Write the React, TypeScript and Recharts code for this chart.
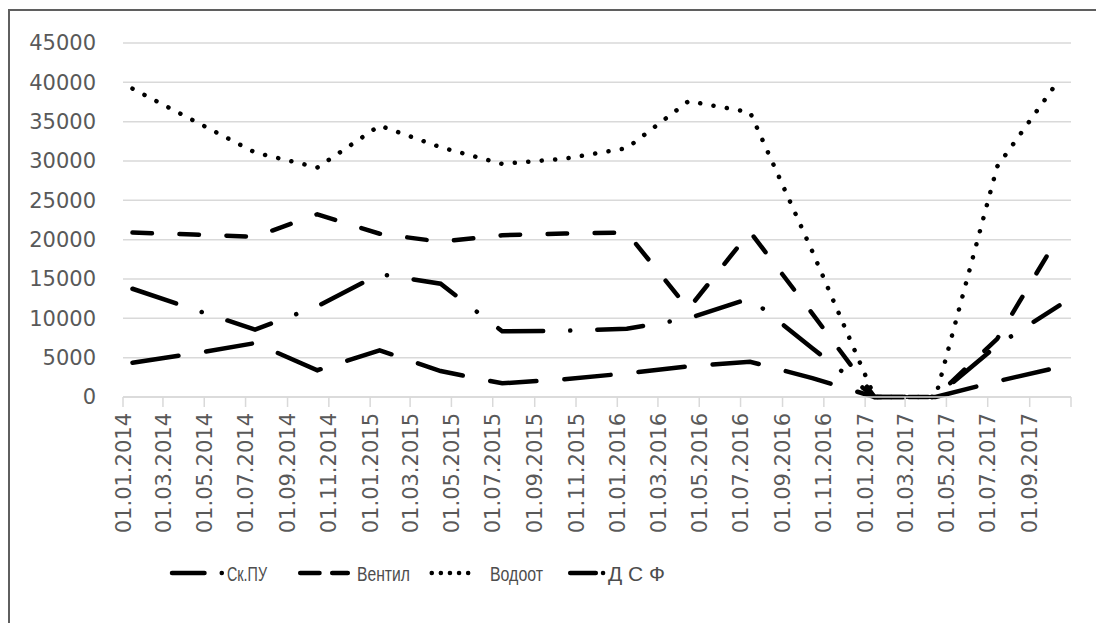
import React from "react";
import {
  LineChart,
  Line,
  XAxis,
  YAxis,
  CartesianGrid,
} from "recharts";

// quarterly readings (dd.mm.yyyy)
const dates = [
  "15.01.2014", "15.04.2014", "15.07.2014", "15.10.2014",
  "15.01.2015", "15.04.2015", "15.07.2015", "15.10.2015",
  "15.01.2016", "15.04.2016", "15.07.2016", "15.10.2016",
  "15.01.2017", "15.04.2017", "15.07.2017", "15.10.2017",
];

const skPu = [13760, 11150, 8570, 11530, 15630, 14400, 8350, 8420, 8670, 10000, 12540, 6200, 0, 0, 6570, 11650];
const ventil = [20900, 20650, 20370, 23230, 20750, 19740, 20560, 20780, 20900, 11200, 21000, 10600, 0, 0, 7400, 20600];
const vodoot = [39200, 35150, 31080, 29170, 34500, 31750, 29630, 30290, 31630, 37600, 36200, 18500, 0, 0, 29300, 40400];
const dsf = [4350, 5520, 6850, 3400, 5940, 3300, 1740, 2250, 3010, 3900, 4480, 2400, 0, 0, 2000, 3800];

const xTickLabels = [
  "01.01.2014", "01.03.2014", "01.05.2014", "01.07.2014", "01.09.2014", "01.11.2014",
  "01.01.2015", "01.03.2015", "01.05.2015", "01.07.2015", "01.09.2015", "01.11.2015",
  "01.01.2016", "01.03.2016", "01.05.2016", "01.07.2016", "01.09.2016", "01.11.2016",
  "01.01.2017", "01.03.2017", "01.05.2017", "01.07.2017", "01.09.2017",
];
const xAxisEnd = "01.11.2017";

const yTicks = [0, 5000, 10000, 15000, 20000, 25000, 30000, 35000, 40000, 45000];

const parseDate = (s: string) => {
  const [d, m, y] = s.split(".").map(Number);
  return Date.UTC(y, m - 1, d);
};

const formatDate = (t: number) => {
  const dt = new Date(t);
  const dd = String(dt.getUTCDate()).padStart(2, "0");
  const mm = String(dt.getUTCMonth() + 1).padStart(2, "0");
  return `${dd}.${mm}.${dt.getUTCFullYear()}`;
};

const chartData = dates.map((d, i) => ({
  t: parseDate(d),
  skPu: skPu[i],
  ventil: ventil[i],
  vodoot: vodoot[i],
  dsf: dsf[i],
}));

const xTicks = [...xTickLabels, xAxisEnd].map(parseDate);

const AXIS_FONT = "'DejaVu Sans', sans-serif";
const TEXT = "#595959";
const GRID = "#d9d9d9";
const LINE_W = 4.5;

const DateTick = (props: any) => {
  const { x, y, payload } = props;
  const label = formatDate(payload.value);
  if (!xTickLabels.includes(label)) return <g />;
  return (
    <g transform={`translate(${x},${y})`}>
      <text
        transform="rotate(-90)"
        x={0}
        y={0}
        dy="0.36em"
        textAnchor="end"
        fill={TEXT}
        fontSize={21}
        fontFamily={AXIS_FONT}
      >
        {label}
      </text>
    </g>
  );
};

// legend drawn by hand so the line samples look like the Excel ones
const ChartLegend = () => {
  const common = {
    stroke: "#000",
    strokeWidth: LINE_W,
    strokeLinecap: "round" as const,
  };
  const label = {
    fill: "#4d4d4d",
    fontSize: 20.5,
    fontFamily: "'Liberation Sans Narrow', 'Liberation Sans', sans-serif",
    dominantBaseline: "central" as const,
    lengthAdjust: "spacingAndGlyphs",
  };
  return (
    <svg
      width={540}
      height={30}
      style={{ position: "absolute", left: 150, top: 547 }}
    >
      <line x1={12} x2={61.8} y1={15} y2={15} {...common} strokeDasharray="32.5 17.2 0.1 100" />
      <text x={67} y={15} textLength={40} {...label}>Ск.ПУ</text>

      <line x1={140.2} x2={187.8} y1={15} y2={15} {...common} strokeDasharray="19.3 12.7" />
      <text x={197} y={15} textLength={53} {...label}>Вентил</text>

      <line x1={271.7} x2={316.8} y1={15} y2={15} {...common} strokeDasharray="0.1 9" />
      <text x={330} y={15} textLength={53} {...label}>Водоот</text>

      <line x1={410.2} x2={443.1} y1={15} y2={15} {...common} strokeDasharray="25.6 7.2" />
      <text x={448} y={15} textLength={57} {...label}>Д С Ф</text>
    </svg>
  );
};

export default function App() {
  return (
    <div
      style={{
        position: "relative",
        boxSizing: "border-box",
        width: 1096,
        height: 640,
        marginTop: 1,
        borderTop: "2px solid #5f5f5f",
        borderLeft: "2px solid #5f5f5f",
        borderRight: "2px solid #5f5f5f",
        background: "#fff",
      }}
    >
      <LineChart
        width={1092}
        height={560}
        data={chartData}
        margin={{ top: 32, right: 31, left: 0, bottom: 0 }}
      >
        <CartesianGrid horizontal vertical={false} stroke={GRID} strokeWidth={1.5} />
        <XAxis
          dataKey="t"
          type="number"
          domain={[parseDate(xTickLabels[0]), parseDate(xAxisEnd)]}
          ticks={xTicks}
          interval={0}
          height={174}
          stroke={GRID}
          strokeWidth={1.5}
          tickSize={10}
          tickMargin={6}
          tick={<DateTick />}
        />
        <YAxis
          type="number"
          domain={[0, 45000]}
          ticks={yTicks}
          interval={0}
          width={113}
          axisLine={false}
          tickLine={false}
          tickMargin={21}
          tick={{ fill: TEXT, fontSize: 21, fontFamily: AXIS_FONT }}
        />
        <Line
          dataKey="skPu"
          name="Ск.ПУ"
          type="linear"
          stroke="#000"
          strokeWidth={LINE_W}
          strokeLinecap="round"
          strokeDasharray="46 27 0.1 27"
          dot={false}
          activeDot={false}
          isAnimationActive={false}
        />
        <Line
          dataKey="ventil"
          name="Вентил"
          type="linear"
          stroke="#000"
          strokeWidth={LINE_W}
          strokeLinecap="round"
          strokeDasharray="19.5 27.5"
          dot={false}
          activeDot={false}
          isAnimationActive={false}
        />
        <Line
          dataKey="vodoot"
          name="Водоот"
          type="linear"
          stroke="#000"
          strokeWidth={LINE_W}
          strokeLinecap="round"
          strokeDasharray="0.1 13.4"
          dot={false}
          activeDot={false}
          isAnimationActive={false}
        />
        <Line
          dataKey="dsf"
          name="Д С Ф"
          type="linear"
          stroke="#000"
          strokeWidth={LINE_W}
          strokeLinecap="round"
          strokeDasharray="46.5 28"
          dot={false}
          activeDot={false}
          isAnimationActive={false}
        />
      </LineChart>
      <ChartLegend />
    </div>
  );
}
